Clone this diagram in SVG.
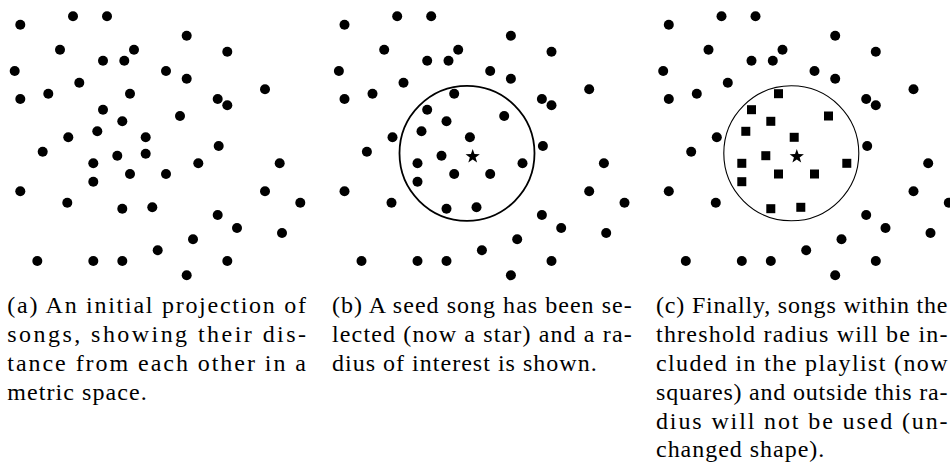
<svg xmlns="http://www.w3.org/2000/svg" xmlns:xlink="http://www.w3.org/1999/xlink" width="950" height="468" viewBox="0 0 950 468">
<style>
.cap{font-family:"Liberation Serif","Times New Roman",serif;font-size:24px;fill:#000}
.dot{fill:#000}
.ring{fill:none;stroke:#000}
</style>
<defs>
<circle id="d" r="5" class="dot"/>
<rect id="sq" x="-4.5" y="-4.5" width="9" height="9" fill="#000"/>
<path id="star" d="M0,-7.5 L1.76,-2.43 L7.13,-2.32 L2.85,0.93 L4.41,6.07 L0,3 L-4.41,6.07 L-2.85,0.93 L-7.13,-2.32 L-1.76,-2.43 Z" fill="#000"/>
<g id="outer">
<use href="#d" x="20.3" y="24.7"/><use href="#d" x="73" y="16.3"/><use href="#d" x="107" y="16.3"/>
<use href="#d" x="186.7" y="35.7"/><use href="#d" x="60" y="49.7"/><use href="#d" x="134" y="49.7"/>
<use href="#d" x="103" y="60.7"/><use href="#d" x="124.3" y="60.7"/><use href="#d" x="227.3" y="51.7"/>
<use href="#d" x="14.7" y="71"/><use href="#d" x="166" y="71"/><use href="#d" x="186.7" y="78.7"/>
<use href="#d" x="79.3" y="82.7"/><use href="#d" x="20.3" y="99"/><use href="#d" x="48.3" y="93.7"/>
<use href="#d" x="265" y="89.3"/><use href="#d" x="217.7" y="99"/><use href="#d" x="227.3" y="105.3"/>
<use href="#d" x="68.3" y="137.3"/><use href="#d" x="42.7" y="151.7"/><use href="#d" x="218.7" y="146"/>
<use href="#d" x="279.7" y="163.3"/><use href="#d" x="20.3" y="191.3"/><use href="#d" x="265" y="191.3"/>
<use href="#d" x="67.3" y="202.7"/><use href="#d" x="300.3" y="202.7"/><use href="#d" x="217.7" y="215"/>
<use href="#d" x="237" y="228"/><use href="#d" x="282" y="233"/><use href="#d" x="193" y="239.3"/>
<use href="#d" x="157.7" y="250.3"/><use href="#d" x="37.3" y="261"/><use href="#d" x="93.3" y="261"/>
<use href="#d" x="122.3" y="261"/><use href="#d" x="227.3" y="261"/><use href="#d" x="186.7" y="275.3"/>
</g>
<g id="inner">
<use href="#d" x="130" y="93.7"/><use href="#d" x="103" y="109.7"/><use href="#d" x="122.3" y="121.3"/>
<use href="#d" x="180" y="116"/><use href="#d" x="97.3" y="131.3"/><use href="#d" x="145.7" y="137.3"/>
<use href="#d" x="117.3" y="155.7"/><use href="#d" x="93.3" y="163.3"/><use href="#d" x="198.3" y="163.3"/>
<use href="#d" x="130" y="174"/><use href="#d" x="166" y="174"/><use href="#d" x="93.3" y="181.7"/>
<use href="#d" x="122.3" y="208.7"/><use href="#d" x="152.3" y="207.3"/>
</g>
<g id="innersq">
<use href="#sq" x="130" y="93.7"/><use href="#sq" x="103" y="109.7"/><use href="#sq" x="122.3" y="121.3"/>
<use href="#sq" x="180" y="116"/><use href="#sq" x="97.3" y="131.3"/><use href="#sq" x="145.7" y="137.3"/>
<use href="#sq" x="117.3" y="155.7"/><use href="#sq" x="93.3" y="163.3"/><use href="#sq" x="198.3" y="163.3"/>
<use href="#sq" x="130" y="174"/><use href="#sq" x="166" y="174"/><use href="#sq" x="93.3" y="181.7"/>
<use href="#sq" x="122.3" y="208.7"/><use href="#sq" x="152.3" y="207.3"/>
</g>
</defs>

<g id="panel-a">
<use href="#outer"/>
<use href="#inner"/>
<use href="#d" x="145.7" y="153.7"/>
<text class="cap" x="7.3" y="313.3" textLength="298.7" lengthAdjust="spacing">(a) An initial projection of</text>
<text class="cap" x="7.3" y="342.3" textLength="298.7" lengthAdjust="spacing">songs, showing their dis-</text>
<text class="cap" x="7.3" y="371.3" textLength="298.7" lengthAdjust="spacing">tance from each other in a</text>
<text class="cap" x="7.3" y="400.3" textLength="139.4" lengthAdjust="spacing">metric space.</text>
</g>

<g id="panel-b">
<g transform="translate(324.2,0)">
<use href="#outer"/>
<use href="#inner"/>
<circle class="ring" cx="142.8" cy="153.3" r="67.5" stroke-width="1.8"/>
<use href="#star" x="148.5" y="156.5"/>
</g>
<text class="cap" x="332" y="313.3" textLength="299.7" lengthAdjust="spacing">(b) A seed song has been se-</text>
<text class="cap" x="332" y="342.3" textLength="299.7" lengthAdjust="spacing">lected (now a star) and a ra-</text>
<text class="cap" x="332" y="371.3" textLength="264.7" lengthAdjust="spacing">dius of interest is shown.</text>
</g>

<g id="panel-c">
<g transform="translate(648.5,0)">
<use href="#outer"/>
<use href="#innersq"/>
<circle class="ring" cx="142.8" cy="153.3" r="67.5" stroke-width="1.1"/>
<use href="#star" x="148.3" y="156.5"/>
</g>
<text class="cap" x="656" y="313.3" textLength="291.5" lengthAdjust="spacing">(c) Finally, songs within the</text>
<text class="cap" x="656" y="342.1" textLength="291.5" lengthAdjust="spacing">threshold radius will be in-</text>
<text class="cap" x="656" y="370.9" textLength="291.5" lengthAdjust="spacing">cluded in the playlist (now</text>
<text class="cap" x="656" y="399.7" textLength="291.5" lengthAdjust="spacing">squares) and outside this ra-</text>
<text class="cap" x="656" y="428.5" textLength="291.5" lengthAdjust="spacing">dius will not be used (un-</text>
<text class="cap" x="656" y="457.3" textLength="168.3" lengthAdjust="spacing">changed shape).</text>
</g>
</svg>
